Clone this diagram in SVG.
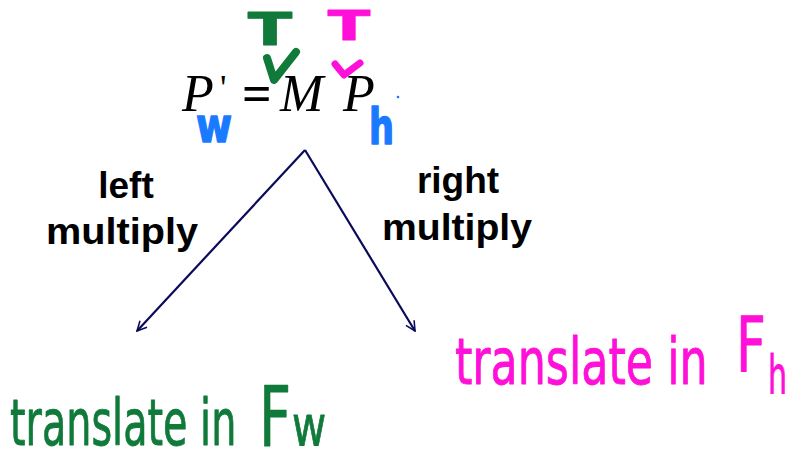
<svg xmlns="http://www.w3.org/2000/svg" width="791" height="459" viewBox="0 0 791 459">
<defs>
<style>
.eq{font-family:"Liberation Serif",serif;font-style:italic;font-size:52px;fill:#000}
.lbl{font-family:"Liberation Sans",Arial,sans-serif;font-weight:bold;font-size:37px;fill:#000;text-anchor:middle}
.hand{font-family:"DejaVu Sans Condensed","DejaVu Sans",sans-serif;stroke-linejoin:round;stroke-linecap:round}
.green{fill:#107a3a;stroke:#107a3a}
.pink{fill:#ff10d8;stroke:#ff10d8}
.blue{fill:#1a7aff;stroke:#1a7aff}
.conn{stroke:#0a0a5a;stroke-width:2.2;fill:none}
</style>
<marker id="arr" viewBox="0 0 20 20" refX="18" refY="10" markerWidth="12" markerHeight="12" markerUnits="userSpaceOnUse" orient="auto">
<path d="M2,2 L18,10 L2,18" fill="none" stroke="#0a0a5a" stroke-width="2.6"/>
</marker>
</defs>
<rect width="791" height="459" fill="#fff"/>
<g id="equation">
<text class="eq" x="182" y="111">P</text>
<text x="220" y="100" font-family="Liberation Serif,serif" font-size="36" fill="#000">'</text>
<text x="242" y="111" font-family="Liberation Serif,serif" font-size="52" font-weight="bold" fill="#000">=</text>
<text class="eq" x="280" y="111">M</text>
<text class="eq" x="343" y="111">P</text>
<text class="hand blue" x="196" y="142" font-size="48" font-weight="bold" stroke-width="1.5" textLength="36" lengthAdjust="spacingAndGlyphs">w</text>
<text class="hand blue" x="369" y="144" font-size="50" font-weight="bold" stroke-width="1.5" textLength="25" lengthAdjust="spacingAndGlyphs">h</text>
<circle cx="398" cy="97" r="1.3" fill="#1a7aff"/>
</g>
<g id="transpose-M">
<text class="hand green" x="248" y="45" font-size="44" font-weight="bold" stroke-width="1" textLength="44" lengthAdjust="spacingAndGlyphs">T</text>
<path d="M267,58 L274,80 L296,52" fill="none" stroke="#107a3a" stroke-width="8" stroke-linecap="round" stroke-linejoin="round"/>
</g>
<g id="transpose-P">
<text class="hand pink" x="328" y="40" font-size="40" font-weight="bold" stroke-width="1" textLength="42" lengthAdjust="spacingAndGlyphs">T</text>
<path d="M335,64 L344,75 L360,63" fill="none" stroke="#ff10d8" stroke-width="7" stroke-linecap="round" stroke-linejoin="round"/>
</g>
<g id="connectors">
<line class="conn" x1="305" y1="150" x2="137" y2="331" marker-end="url(#arr)"/>
<line class="conn" x1="305" y1="150" x2="415" y2="331" marker-end="url(#arr)"/>
</g>
<g id="left-label">
<text class="lbl" x="126" y="198">left</text>
<text class="lbl" x="122" y="244" textLength="152" lengthAdjust="spacingAndGlyphs">multiply</text>
</g>
<g id="right-label">
<text class="lbl" x="458" y="193">right</text>
<text class="lbl" x="457" y="240" textLength="150" lengthAdjust="spacingAndGlyphs">multiply</text>
</g>
<g id="left-result">
<text class="hand green" transform="translate(10,445) scale(0.69,1)" font-size="64" stroke-width="0.8">translate in</text>
<text class="hand green" transform="translate(259,446) scale(0.74,1)" font-size="84" stroke-width="0.8">F</text>
<text class="hand green" transform="translate(292,445) scale(0.83,1)" font-size="56" stroke-width="0.8">w</text>
</g>
<g id="right-result">
<text class="hand pink" transform="translate(455,384) scale(0.77,1)" font-size="64" stroke-width="0.8">translate in</text>
<text class="hand pink" transform="translate(736,372) scale(0.76,1)" font-size="76" stroke-width="0.8">F</text>
<text class="hand pink" transform="translate(768,394) scale(0.62,1)" font-size="54" stroke-width="0.8">h</text>
</g>
</svg>
